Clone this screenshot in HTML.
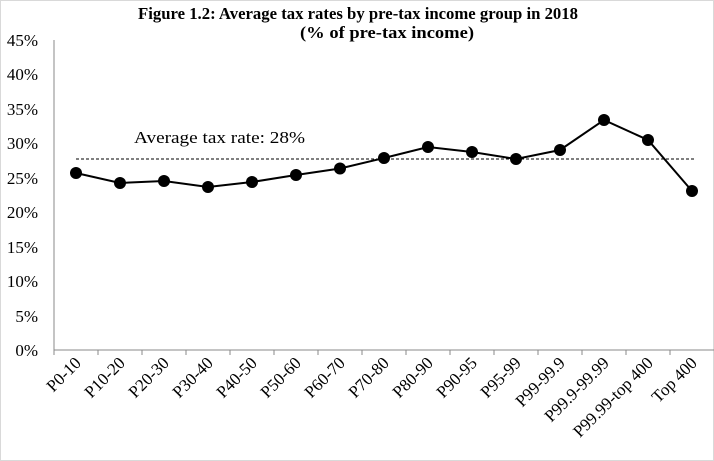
<!DOCTYPE html>
<html><head><meta charset="utf-8"><style>
body{margin:0;background:#fff}
svg{display:block;font-family:"Liberation Serif",serif}
</style></head><body>
<svg width="714" height="461" viewBox="0 0 714 461">
<rect x="0.5" y="0.5" width="713" height="460" fill="#fff" stroke="#d9d9d9"/>
<text x="138" y="19" font-size="16.5" font-weight="bold" textLength="440" lengthAdjust="spacingAndGlyphs">Figure 1.2: Average tax rates by pre-tax income group in 2018</text>
<text x="300" y="38" font-size="16.5" font-weight="bold" textLength="174" lengthAdjust="spacingAndGlyphs">(% of pre-tax income)</text>
<g font-size="17" text-anchor="end">
<text x="38" y="356">0%</text><text x="38" y="322">5%</text><text x="38" y="287">10%</text>
<text x="38" y="253">15%</text><text x="38" y="218">20%</text><text x="38" y="184">25%</text>
<text x="38" y="149">30%</text><text x="38" y="115">35%</text><text x="38" y="80">40%</text>
<text x="38" y="46">45%</text>
</g>
<line x1="54" y1="40" x2="54" y2="350" stroke="#888"/>
<line x1="54" y1="350" x2="714" y2="350" stroke="#888"/>
<g stroke="#888">
<line x1="54" y1="350" x2="54" y2="355"/><line x1="98" y1="350" x2="98" y2="355"/><line x1="142" y1="350" x2="142" y2="355"/><line x1="186" y1="350" x2="186" y2="355"/><line x1="230" y1="350" x2="230" y2="355"/><line x1="274" y1="350" x2="274" y2="355"/><line x1="318" y1="350" x2="318" y2="355"/><line x1="362" y1="350" x2="362" y2="355"/><line x1="406" y1="350" x2="406" y2="355"/><line x1="450" y1="350" x2="450" y2="355"/><line x1="494" y1="350" x2="494" y2="355"/><line x1="538" y1="350" x2="538" y2="355"/><line x1="582" y1="350" x2="582" y2="355"/><line x1="626" y1="350" x2="626" y2="355"/><line x1="670" y1="350" x2="670" y2="355"/>
</g>
<line x1="76" y1="159" x2="696" y2="159" stroke="#000" stroke-dasharray="3,2"/>
<text x="134" y="143" font-size="17" textLength="171" lengthAdjust="spacingAndGlyphs">Average tax rate: 28%</text>
<polyline fill="none" stroke="#000" stroke-width="2" points="76,173 120,183 164,181 208,187 252,182 296,175 340,168.5 384,158 428,147 472,152 516,159 560,150 604,120 648,140 692,191"/>
<g fill="#000">
<circle cx="76" cy="173" r="6"/><circle cx="120" cy="183" r="6"/><circle cx="164" cy="181" r="6"/><circle cx="208" cy="187" r="6"/><circle cx="252" cy="182" r="6"/><circle cx="296" cy="175" r="6"/><circle cx="340" cy="168.5" r="6"/><circle cx="384" cy="158" r="6"/><circle cx="428" cy="147" r="6"/><circle cx="472" cy="152" r="6"/><circle cx="516" cy="159" r="6"/><circle cx="560" cy="150" r="6"/><circle cx="604" cy="120" r="6"/><circle cx="648" cy="140" r="6"/><circle cx="692" cy="191" r="6"/>
</g>
<g font-size="17" text-anchor="end">
<text transform="translate(82,364) rotate(-45)">P0-10</text>
<text transform="translate(126,364) rotate(-45)">P10-20</text>
<text transform="translate(170,364) rotate(-45)">P20-30</text>
<text transform="translate(214,364) rotate(-45)">P30-40</text>
<text transform="translate(258,364) rotate(-45)">P40-50</text>
<text transform="translate(302,364) rotate(-45)">P50-60</text>
<text transform="translate(346,364) rotate(-45)">P60-70</text>
<text transform="translate(390,364) rotate(-45)">P70-80</text>
<text transform="translate(434,364) rotate(-45)">P80-90</text>
<text transform="translate(478,364) rotate(-45)">P90-95</text>
<text transform="translate(522,364) rotate(-45)">P95-99</text>
<text transform="translate(566,364) rotate(-45)">P99-99.9</text>
<text transform="translate(610,364) rotate(-45)">P99.9-99.99</text>
<text transform="translate(654,364) rotate(-45)">P99.99-top 400</text>
<text transform="translate(698,364) rotate(-45)">Top 400</text>
</g>
</svg>
</body></html>
